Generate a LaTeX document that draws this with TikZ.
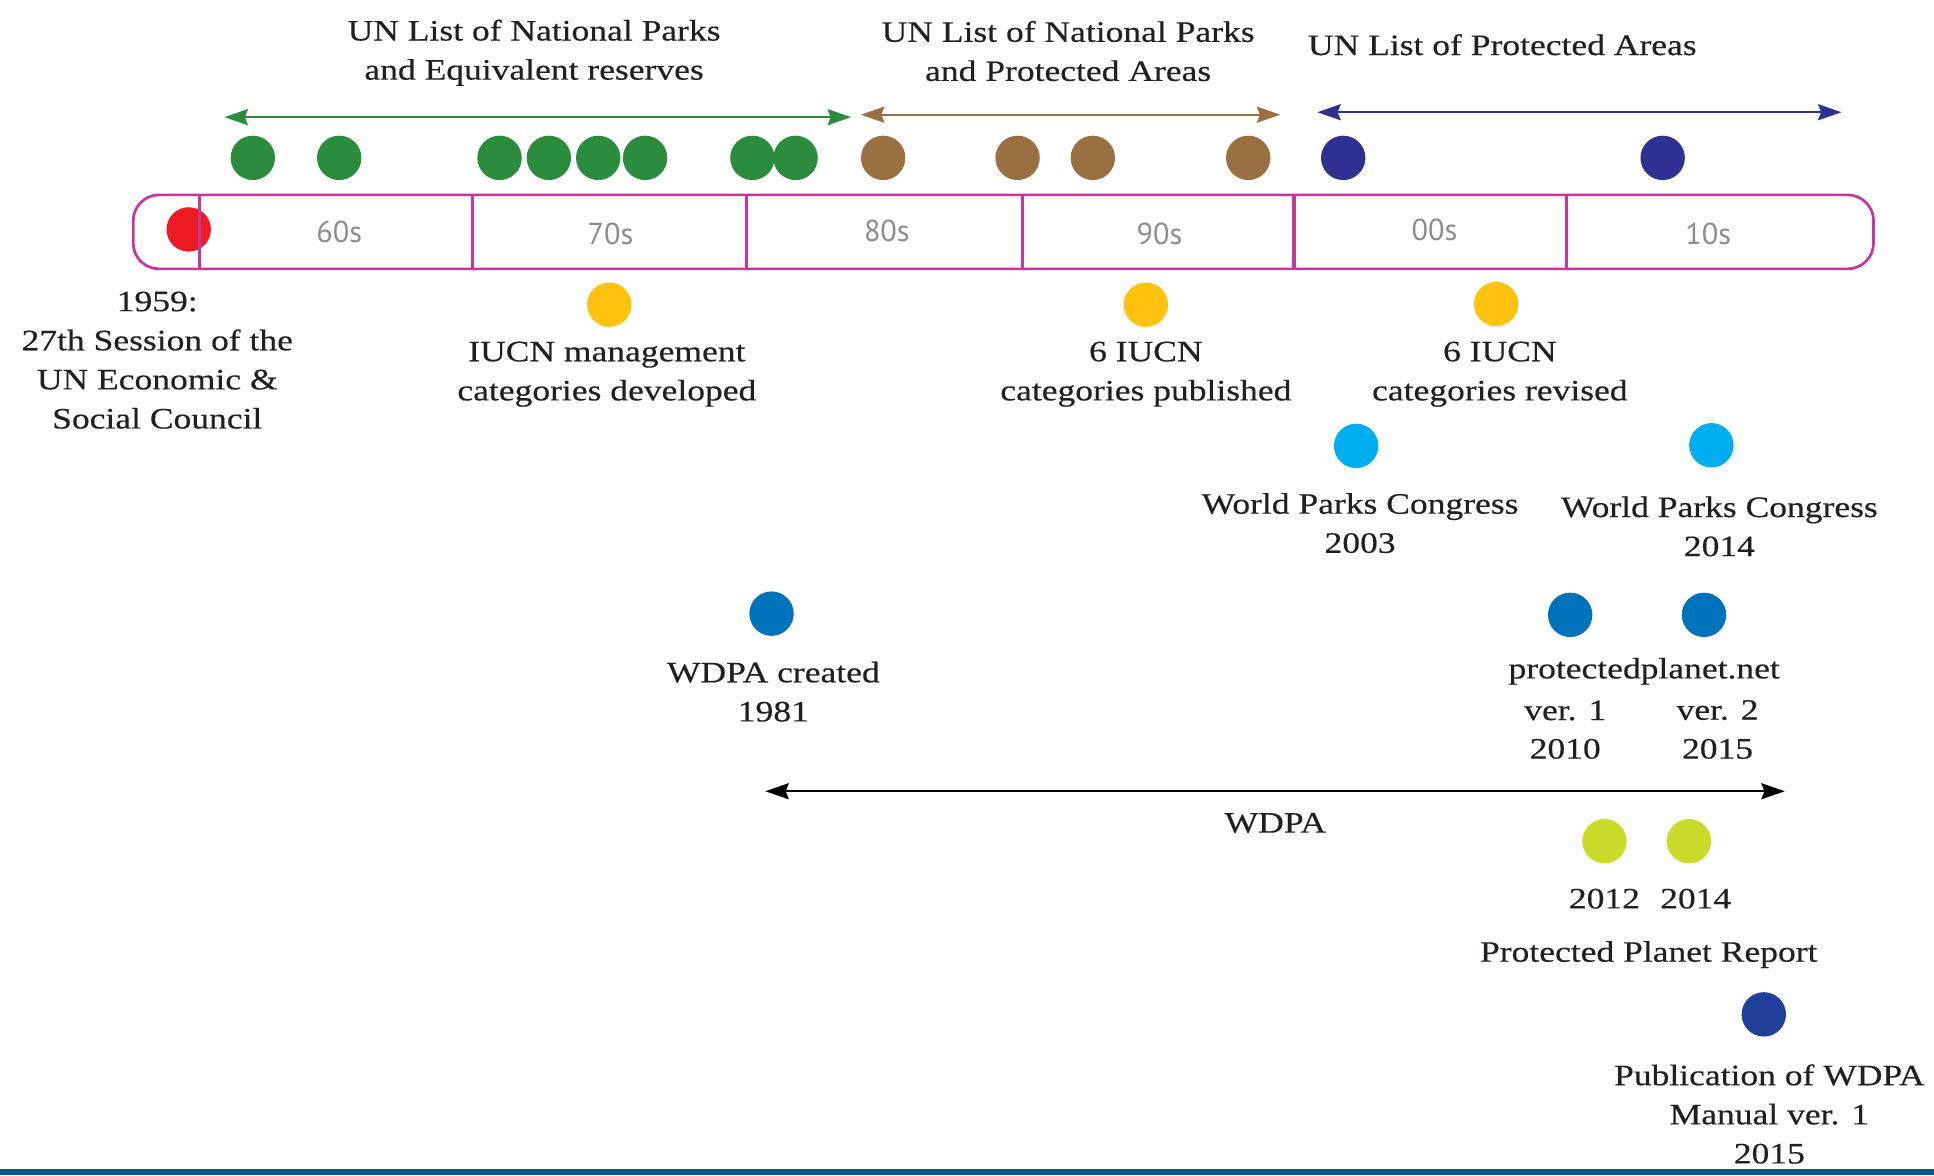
\documentclass[tikz,border=0pt]{standalone}
\usepackage{fontspec}
\setmainfont{Liberation Serif}[FakeStretch=1.2,FakeBold=0.4]
\newfontfamily\decfont{PT Sans}
\usetikzlibrary{arrows.meta}
\definecolor{txt}{RGB}{35,31,32}
\definecolor{cgreen}{RGB}{42,140,60}
\definecolor{cbrown}{RGB}{153,112,66}
\definecolor{cnavy}{RGB}{46,49,146}
\definecolor{cred}{RGB}{237,28,36}
\definecolor{cyellow}{RGB}{255,194,14}
\definecolor{clblue}{RGB}{0,174,239}
\definecolor{cblue}{RGB}{0,114,188}
\definecolor{clime}{RGB}{203,219,42}
\definecolor{cdblue}{RGB}{33,64,154}
\definecolor{cbar}{RGB}{196,55,160}
\definecolor{cstrip}{RGB}{16,90,132}
\definecolor{cdec}{RGB}{140,140,140}
\tikzset{
  dot/.style={circle, fill=#1, minimum size=36pt, inner sep=0pt},
  lbl/.style={text=txt, font=\fontsize{24}{31.7}\selectfont, inner sep=0pt, align=center},
  dec/.style={text=cdec, font=\decfont\fontsize{24.5}{28}\selectfont, inner sep=0pt},
  span/.style={line width=1.8pt, draw=#1, {Stealth[length=19pt,width=13pt,inset=2.5pt]}-{Stealth[length=19pt,width=13pt,inset=2.5pt]}},
  divider/.style={draw=cbar, line width=2.2pt}
}
\begin{document}
\begin{tikzpicture}[x=1pt,y=-1pt]
\useasboundingbox (0,0) rectangle (1568,953);
\fill[cstrip] (0,948) rectangle (1568,953);

% titles
\node[lbl] (t1) at (433,42.8) {UN List of National Parks\\and Equivalent reserves};
\node[lbl] (t2) at (866,41.4) {UN List of National Parks\\and Protected Areas};
\node[lbl, anchor=base] (t3) at (1218,44.6) {UN List of Protected Areas};

% period arrows
\coordinate (gL) at (182,95); \coordinate (gR) at (690,95);
\coordinate (bL) at (698,93); \coordinate (bR) at (1038,93);
\coordinate (nL) at (1068,91); \coordinate (nR) at (1493,91);
\draw[span=cgreen] (gL) -- (gR);
\draw[span=cbrown] (bL) -- (bR);
\draw[span=cnavy] (nL) -- (nR);

% top dots
\node[dot=cgreen] (g1) at (205,128) {};
\node[dot=cgreen] (g2) at (275,128) {};
\node[dot=cgreen] (g3) at (405,128) {};
\node[dot=cgreen] (g4) at (445,128) {};
\node[dot=cgreen] (g5) at (485,128) {};
\node[dot=cgreen] (g6) at (523,128) {};
\node[dot=cgreen] (g7) at (610,128) {};
\node[dot=cgreen] (g8) at (645,128) {};
\node[dot=cbrown] (b1) at (716,128) {};
\node[dot=cbrown] (b2) at (825,128) {};
\node[dot=cbrown] (b3) at (886,128) {};
\node[dot=cbrown] (b4) at (1012,128) {};
\node[dot=cnavy] (n1) at (1089,128) {};
\node[dot=cnavy] (n2) at (1348,128) {};

% timeline bar
\node[dot=cred] (red) at (153,186) {};
\draw[cbar, line width=2.2pt, rounded corners=21pt] (108,158) rectangle (1519,218);
\foreach \xx in {162,383,605,829,1270} \draw[divider] (\xx,158) -- (\xx,218);
\draw[divider, line width=3.2pt] (1049,158) -- (1049,218);
\node[dec] (d60) at (275,188) {60s};
\node[dec] (d70) at (495,190) {70s};
\node[dec] (d80) at (719,187) {80s};
\node[dec] (d90) at (940,190) {90s};
\node[dec] (d00) at (1163,186.5) {00s};
\node[dec] (d10) at (1385,190) {10s};

% below the bar
\node[lbl] (s1959) at (127.5,292) {1959:\\27th Session of the\\UN Economic \&\\Social Council};
\node[dot=cyellow] (y1) at (494,247) {};
\node[dot=cyellow] (y2) at (929,247) {};
\node[dot=cyellow] (y3) at (1213,246.5) {};
\node[lbl] (iucn1) at (492,303.4) {IUCN management\\categories developed};
\node[lbl] (iucn2) at (929,303.4) {6 IUCN\\categories published};
\node[lbl] (iucn3) at (1216,303.4) {6 IUCN\\categories revised};

\node[dot=clblue] (w1) at (1099.5,361.5) {};
\node[dot=clblue] (w2) at (1387.5,361) {};
\node[lbl] (wpc1) at (1102.7,424.1) {World Parks Congress\\2003};
\node[lbl] (wpc2) at (1394,426.8) {World Parks Congress\\2014};

\node[dot=cblue] (wd) at (625.5,497.5) {};
\node[dot=cblue] (pp1) at (1273,498.5) {};
\node[dot=cblue] (pp2) at (1381.5,498.5) {};
\node[lbl] (wdpac) at (627,560.8) {WDPA created\\1981};
\node[lbl, anchor=base] (ppn) at (1333,550) {protectedplanet.net};
\node[lbl, anchor=base] (v1) at (1269,583.8) {ver. 1};
\node[lbl, anchor=base] (v2) at (1392.5,583.5) {ver. 2};
\node[lbl, anchor=base] (y2010) at (1269,615) {2010};
\node[lbl, anchor=base] (y2015) at (1392.5,615) {2015};

% WDPA span
\coordinate (wL) at (620.5,641.5); \coordinate (wR) at (1447,641.5);
\draw[span=black, line width=1.6pt] (wL) -- (wR);
\node[lbl, anchor=base] (wdpa) at (1034,675) {WDPA};

\node[dot=clime] (r1) at (1300.8,682) {};
\node[dot=clime] (r2) at (1369.3,682) {};
\node[lbl, anchor=base] (y2012) at (1300.8,736.5) {2012};
\node[lbl, anchor=base] (y2014) at (1374.8,736.5) {2014};
\node[lbl, anchor=base] (ppr) at (1336.7,779.7) {Protected Planet Report};

\node[dot=cdblue] (man) at (1430,822.4) {};
\node[lbl] (pub) at (1434.5,903.2) {Publication of WDPA\\Manual ver. 1\\2015};
\end{tikzpicture}
\end{document}
